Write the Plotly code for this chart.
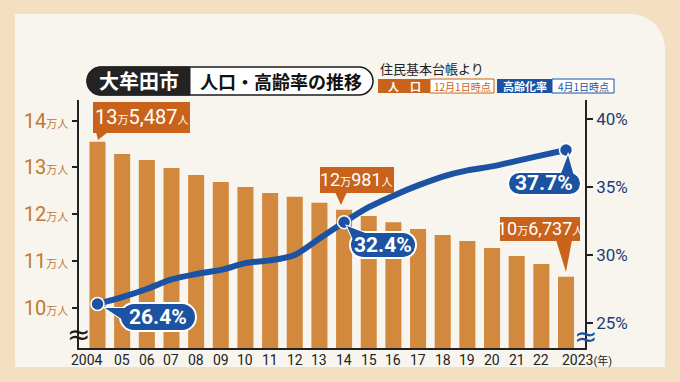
import plotly.graph_objects as go

# ---------------- data ----------------
years = list(range(2004, 2024))
population = [135487, 132868, 131591, 129888, 128397, 126907, 125843, 124565, 123778, 122500,
              120981, 119669, 118327, 116901, 115624, 114346, 112856, 111153, 109450, 106737]
aging_rate = [26.4, 26.9, 27.5, 28.2, 28.6, 28.9, 29.4, 29.6, 30.0, 31.2,
              32.4, 33.5, 34.35, 35.1, 35.75, 36.2, 36.5, 36.9, 37.3, 37.7]
x_labels = ["2004", "05", "06", "07", "08", "09", "10", "11", "12", "13", "14",
            "15", "16", "17", "18", "19", "20", "21", "22", "2023<span style='font-size:11px'>(年)</span>"]
pop_ticks = [100000, 110000, 120000, 130000, 140000]
pop_tick_text = ["10", "11", "12", "13", "14"]
rate_ticks = [25, 30, 35, 40]
rate_tick_text = ["25%", "30%", "35%", "40%"]
marked_idx = [0, 10, 19]
pop_callouts = {0: ("13", "5,487"), 10: ("12", "981"), 19: ("10", "6,737")}

# ---------------- style ----------------
BAR = "#d2893d"
ORANGE = "#c9631b"
BLUE = "#1b52a1"
NAVY = "#1f3b77"
TICK_OR = "#c27832"
PEACH = "#f4dfc3"
PANEL = "#f8f5ee"
FONT = "Roboto, Noto Sans CJK JP, sans-serif"
JFONT = "Noto Sans CJK JP, sans-serif"

L, T, W, H = 79, 100, 506, 248
XR = [2003.25, 2023.77]
YR = [91554, 144365]
Y2R = [23.172, 41.367]


def xpx(v):
    return L + (v - XR[0]) / (XR[1] - XR[0]) * W


def ypx(v, rng):
    return T + H - (v - rng[0]) / (rng[1] - rng[0]) * H


K = 0.5523


def rr_path(x0, y0, x1, y1, r=(0, 0, 0, 0), ox=0, oy=0):
    """rounded rect in screen pixels -> plotly pixel path relative to (ox, oy)."""
    tl, tr, br, bl = r

    def p(x, y):
        return f"{x - ox:.2f},{-(y - oy):.2f}"
    s = f"M{p(x0 + tl, y0)} L{p(x1 - tr, y0)} "
    s += f"C{p(x1 - tr + K * tr, y0)} {p(x1, y0 + tr - K * tr)} {p(x1, y0 + tr)} "
    s += f"L{p(x1, y1 - br)} "
    s += f"C{p(x1, y1 - br + K * br)} {p(x1 - br + K * br, y1)} {p(x1 - br, y1)} "
    s += f"L{p(x0 + bl, y1)} "
    s += f"C{p(x0 + bl - K * bl, y1)} {p(x0, y1 - bl + K * bl)} {p(x0, y1 - bl)} "
    s += f"L{p(x0, y0 + tl)} "
    s += f"C{p(x0, y0 + tl - K * tl)} {p(x0 + tl - K * tl, y0)} {p(x0 + tl, y0)} Z"
    return s


def tri_path(pts, ox=0, oy=0):
    return "M" + " L".join(f"{x - ox:.2f},{-(y - oy):.2f}" for x, y in pts) + " Z"


shapes = []
annotations = []


def paper_shape(path, fill, line_color=None, lw=0, layer="above"):
    shapes.append(dict(type="path", xref="paper", yref="paper", xsizemode="pixel", ysizemode="pixel",
                       xanchor=0, yanchor=0, path=path, fillcolor=fill, layer=layer,
                       line=dict(color=line_color or fill, width=lw)))


def paper_text(text, px, py, size, color, xanchor="center", family=JFONT):
    annotations.append(dict(text=text, xref="paper", yref="paper", x=(px - L) / W, y=(T + H - py) / H,
                            xanchor=xanchor, yanchor="middle", showarrow=False,
                            font=dict(size=size, color=color, family=family)))


def data_shape(path, xa, ya, yref, fill, line_color=None, lw=0):
    shapes.append(dict(type="path", xref="x", yref=yref, xsizemode="pixel", ysizemode="pixel",
                       xanchor=xa, yanchor=ya, path=path, fillcolor=fill, layer="above",
                       line=dict(color=line_color or fill, width=lw)))


def data_text(text, xa, ya, yref, ax, ay, cx, cy, size, color):
    annotations.append(dict(text=text, xref="x", yref=yref, x=xa, y=ya, xshift=cx - ax, yshift=-(cy - ay),
                            xanchor="center", yanchor="middle", showarrow=False,
                            font=dict(size=size, color=color, family=FONT)))


# background panel
paper_shape(rr_path(15, 14, 665, 367, (0, 35, 0, 0), L, T + H), PANEL, layer="below")

# title
paper_shape(rr_path(87, 67, 373, 95, (14, 14, 14, 14), L, T + H), "white", "#1a1a1a", 1.5)
paper_shape(rr_path(87, 67, 190, 95, (14, 0, 0, 14), L, T + H), "#232323", "#232323", 1)
paper_text("<b>大牟田市</b>", 138.5, 81, 20, "white")
paper_text("<b>人口・高齢率の推移</b>", 281, 81, 18, "#111111")

# source / legend
paper_text("住民基本台帳より", 378, 68.5, 13, "#222222", xanchor="left")
paper_shape(rr_path(378, 79, 430, 93, (0, 0, 0, 0), L, T + H), ORANGE)
paper_text("<b>人　口</b>", 404, 86, 11, "white")
paper_shape(rr_path(430, 79, 494, 93, (0, 0, 0, 0), L, T + H), "white", ORANGE, 1)
paper_text("12月1日時点", 462, 86, 10, ORANGE)
paper_shape(rr_path(497, 79, 552, 93, (0, 0, 0, 0), L, T + H), BLUE)
paper_text("<b>高齢化率</b>", 524.5, 86, 11, "white")
paper_shape(rr_path(552, 79, 614, 93, (0, 0, 0, 0), L, T + H), "white", BLUE, 1)
paper_text("4月1日時点", 583, 86, 10, BLUE)

# axis breaks
paper_text("≈", 78, 334, 28, "#1a1a1a", family="DejaVu Sans")
paper_text("≈", 585, 336, 28, BLUE, family="DejaVu Sans")

# population callouts (boxes given in reference pixels)
pop_boxes = {
    0: ((93, 102, 190, 133), [(96, 132), (108, 132), (98, 140)], (141.5, 117.5), 20),
    10: ((320, 167, 394, 193), [(335, 192), (347, 192), (341, 205)], (357, 180), 18),
    19: ((500, 217, 580, 241), [(556, 240), (572, 240), (566, 272)], (540, 229), 18),
}
for i, (big, small) in pop_callouts.items():
    xa, ya = years[i], population[i]
    ax, ay = xpx(xa), ypx(ya, YR)
    (bx0, by0, bx1, by1), tri, (cx, cy), fs = pop_boxes[i]
    data_shape(rr_path(bx0, by0, bx1, by1, (0, 0, 0, 0), ax, ay), xa, ya, "y", ORANGE)
    data_shape(tri_path(tri, ax, ay), xa, ya, "y", ORANGE)
    txt = f"{big}<span style='font-size:11px'>万</span>{small}<span style='font-size:11px'>人</span>"
    data_text(txt, xa, ya, "y", ax, ay, cx, cy, fs, "white")

# rate callouts (pills)
rate_boxes = {
    0: ((120, 303, 196, 331), [(126, 308), (126, 322), (105, 308)], (158, 317)),
    10: ((350, 232, 416, 258), [(353, 240), (368, 234), (347, 226)], (383, 245)),
    19: ((508, 172, 581, 195), [(560, 176), (574, 176), (568, 155)], (544.5, 183.5)),
}
for i in marked_idx:
    xa, ya = years[i], aging_rate[i]
    ax, ay = xpx(xa), ypx(ya, Y2R)
    (bx0, by0, bx1, by1), tri, (cx, cy) = rate_boxes[i]
    r = (by1 - by0) / 2
    data_shape(tri_path(tri, ax, ay), xa, ya, "y2", BLUE, "white", 2)
    data_shape(rr_path(bx0, by0, bx1, by1, (r, r, r, r), ax, ay), xa, ya, "y2", BLUE, "white", 2)
    data_shape(tri_path(tri, ax, ay), xa, ya, "y2", BLUE, BLUE, 0)
    data_text(f"<b>{aging_rate[i]}%</b>", xa, ya, "y2", ax, ay, cx, cy, 21, "white")

# x labels
for i, (yr, lab) in enumerate(zip(years, x_labels)):
    a = dict(text=lab, xref="x", yref="paper", x=yr, y=0, yanchor="top", yshift=-2,
             showarrow=False, font=dict(size=14, color="#222222", family=FONT), xanchor="center")
    if i == 0:
        a.update(xanchor="right", xshift=105.5 - xpx(yr))
    elif i == len(years) - 1:
        a.update(xanchor="left", xshift=560 - xpx(yr))
    annotations.append(a)

fig = go.Figure()
fig.add_trace(go.Bar(x=years, y=population, marker=dict(color=BAR, line=dict(width=0)),
                     width=0.65, yaxis="y", hoverinfo="skip"))
fig.add_trace(go.Scatter(x=years, y=aging_rate, yaxis="y2", mode="lines",
                         line=dict(color=BLUE, width=6, shape="spline", smoothing=0.8), hoverinfo="skip"))
fig.add_trace(go.Scatter(x=[years[i] for i in marked_idx], y=[aging_rate[i] for i in marked_idx],
                         yaxis="y2", mode="markers",
                         marker=dict(size=13, color=BLUE, line=dict(color="white", width=1.5)), hoverinfo="skip"))

fig.update_layout(
    width=680, height=382, autosize=False,
    margin=dict(l=L, r=680 - L - W, t=T, b=382 - T - H, pad=0),
    paper_bgcolor=PEACH, plot_bgcolor="rgba(0,0,0,0)",
    showlegend=False,
    font=dict(family=FONT),
    xaxis=dict(range=XR, showticklabels=False, ticks="", showgrid=False, zeroline=False,
               showline=True, linecolor="#222222", linewidth=1.5, fixedrange=True),
    yaxis=dict(range=YR, tickvals=pop_ticks,
               ticktext=[f"{t}<span style='font-size:11px'>万人</span>" for t in pop_tick_text],
               ticks="outside", ticklen=5, tickwidth=1.5, tickcolor="#222222",
               showline=True, linecolor="#222222", linewidth=1.5, showgrid=False, zeroline=False,
               tickfont=dict(size=20, color=TICK_OR, family=FONT), fixedrange=True),
    yaxis2=dict(range=Y2R, overlaying="y", side="right", tickvals=rate_ticks, ticktext=rate_tick_text,
                ticks="outside", ticklen=6, tickwidth=1.5, tickcolor="#222222",
                showline=True, linecolor="#222222", linewidth=1.5, showgrid=False, zeroline=False,
                tickfont=dict(size=17, color=NAVY, family=FONT), fixedrange=True),
    shapes=shapes,
    annotations=annotations,
)

fig.write_html("out.html", config={"displayModeBar": False},
               post_script="document.body.style.margin='0';document.body.style.background='%s';" % PEACH)
